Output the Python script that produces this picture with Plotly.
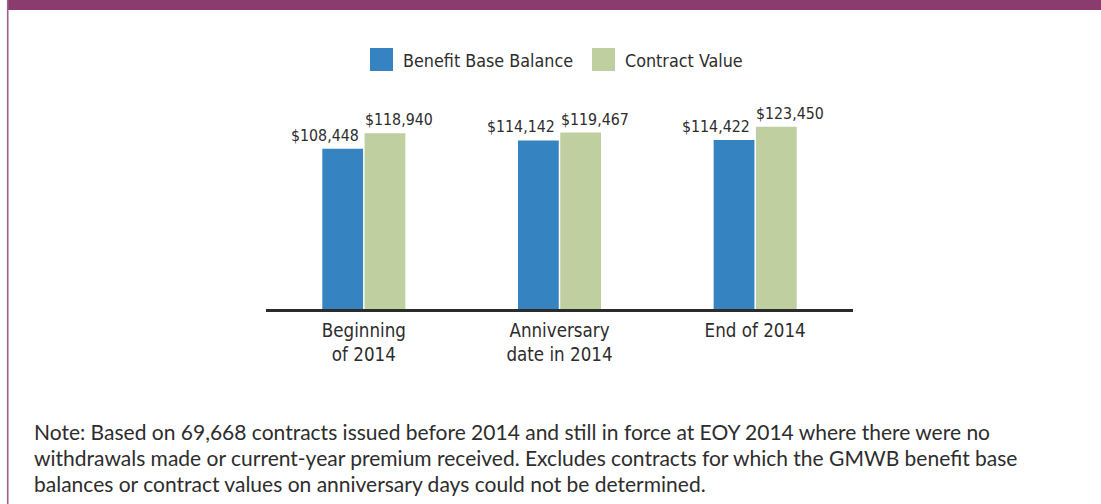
import plotly.graph_objects as go

# Chart data
categories = ["Beginning<br>of 2014", "Anniversary<br>date in 2014", "End of 2014"]
series_names = ["Benefit Base Balance", "Contract Value"]
benefit_base = [108448, 114142, 114422]
contract_value = [118940, 119467, 123450]
note_lines = [
    "Note: Based on 69,668 contracts issued before 2014 and still in force at EOY 2014 where there were no",
    "withdrawals made or current-year premium received. Excludes contracts for which the GMWB benefit base",
    "balances or contract values on anniversary days could not be determined.",
]

W, H = 1101, 504
ML, MR, MT, MB = 266, 248, 117, 195
PW, PH = W - ML - MR, H - MT - MB

BLUE = "#3584C1"
GREEN = "#BFCF9F"
PURPLE = "#8A3C6E"
TEXT = "#2d2d2d"
NARROW = "DejaVu Sans Condensed, Liberation Sans Narrow, sans-serif"
BODY = "Lato, Open Sans, sans-serif"


def px_x(x):
    return (x - ML) / PW


def px_y(y):
    return (H - MB - y) / PH


fig = go.Figure()
fig.add_trace(go.Bar(x=categories, y=benefit_base, name=series_names[0],
                     marker=dict(color=BLUE, line=dict(width=0)), showlegend=False))
fig.add_trace(go.Bar(x=categories, y=contract_value, name=series_names[1],
                     marker=dict(color=GREEN, line=dict(width=0)), showlegend=False))

annotations = []
# value labels: blue ones hug the left of the group, green ones the right
for cat, v in zip(categories, benefit_base):
    annotations.append(dict(x=cat, y=v, xref="x", yref="y", text=f"${v:,}",
                            xanchor="right", yanchor="bottom", xshift=-3, yshift=2,
                            showarrow=False, font=dict(family=NARROW, size=15.8, color=TEXT)))
for cat, v in zip(categories, contract_value):
    annotations.append(dict(x=cat, y=v, xref="x", yref="y", text=f"${v:,}",
                            xanchor="left", yanchor="bottom", xshift=-1, yshift=2,
                            showarrow=False, font=dict(family=NARROW, size=15.8, color=TEXT)))

# legend drawn by hand so the swatches can be large
legend_items = [(370, BLUE, series_names[0]), (592, GREEN, series_names[1])]
shapes = []
for x0, col, name in legend_items:
    shapes.append(dict(type="rect", xref="paper", yref="paper",
                       x0=px_x(x0), x1=px_x(x0 + 23), y0=px_y(71), y1=px_y(48),
                       fillcolor=col, line=dict(width=0)))
    annotations.append(dict(x=px_x(x0 + 31), y=px_y(61), xref="paper", yref="paper",
                            text=name, xanchor="left", yanchor="middle", showarrow=False,
                            font=dict(family=NARROW, size=17.8, color=TEXT)))

# footnote lines
for i, line in enumerate(note_lines):
    annotations.append(dict(x=px_x(32), y=px_y(431 + 26 * i), xref="paper", yref="paper",
                            text=line, xanchor="left", yanchor="middle", showarrow=False,
                            font=dict(family=BODY, size=21, color=TEXT)))

# frame: top band and left rule
shapes.append(dict(type="rect", xref="paper", yref="paper",
                   x0=px_x(7), x1=px_x(W + 2), y0=px_y(10), y1=px_y(-2),
                   fillcolor=PURPLE, line=dict(width=0), layer="above"))
shapes.append(dict(type="line", xref="paper", yref="paper",
                   x0=px_x(7.7), x1=px_x(7.7), y0=px_y(H + 2), y1=px_y(0),
                   line=dict(color="#9c6189", width=1.6)))

fig.update_layout(
    width=W, height=H,
    margin=dict(l=ML, r=MR, t=MT, b=MB, pad=0),
    paper_bgcolor="white", plot_bgcolor="white",
    barmode="group", bargap=0.568, bargroupgap=0.035,
    xaxis=dict(showline=True, linecolor="#2b2b2b", linewidth=2.5, ticks="",
               showgrid=False, zeroline=False, ticklabelstandoff=3,
               tickfont=dict(family=NARROW, size=18.6, color=TEXT)),
    yaxis=dict(range=[0, 130000], visible=False, showgrid=False, zeroline=False),
    annotations=annotations, shapes=shapes,
)

fig.write_html("out.html")
